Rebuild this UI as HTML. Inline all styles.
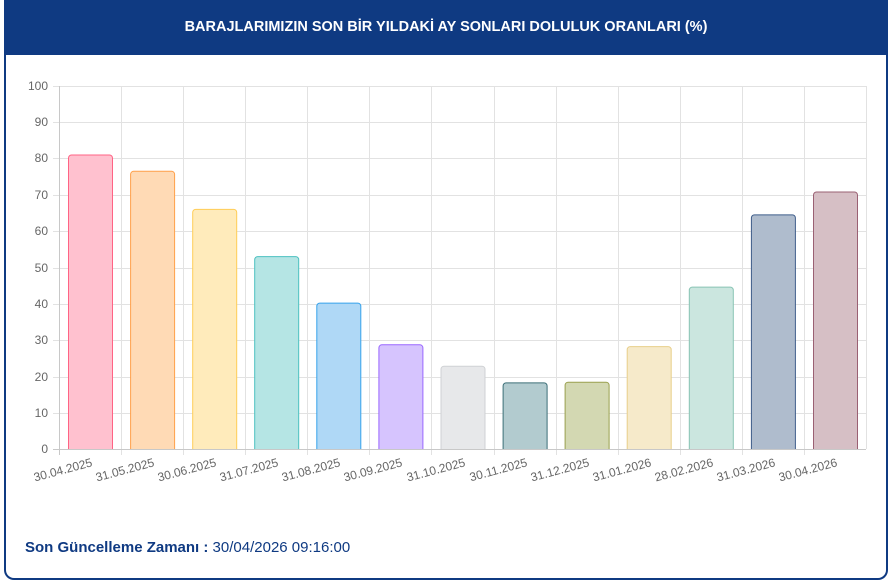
<!DOCTYPE html>
<html><head><meta charset="utf-8"><style>
body{margin:0;background:#fff;width:892px;height:583px;overflow:hidden;font-family:"Liberation Sans",sans-serif}
.card{position:absolute;left:4px;top:0;width:880px;height:578px;border:2px solid #0f3a82;border-top:none;border-radius:0 0 10px 10px}
.hdr{position:absolute;left:4px;top:0;width:884px;height:55px;background:#0f3a82;color:#fff;font-weight:bold;font-size:14.5px;text-align:center;line-height:54px}
.foot{position:absolute;left:25px;top:539px;font-size:15px;color:#0f3a82}
</style></head><body>
<div class="card"></div>
<div class="hdr">BARAJLARIMIZIN SON BİR YILDAKİ AY SONLARI DOLULUK ORANLARI (%)</div>
<svg style="position:absolute;left:0;top:0" width="892" height="583">
<g stroke="#e2e2e2" stroke-width="1">
<line x1="53" x2="866" y1="86.5" y2="86.5"/><line x1="53" x2="866" y1="122.5" y2="122.5"/><line x1="53" x2="866" y1="158.5" y2="158.5"/><line x1="53" x2="866" y1="195.5" y2="195.5"/><line x1="53" x2="866" y1="231.5" y2="231.5"/><line x1="53" x2="866" y1="268.5" y2="268.5"/><line x1="53" x2="866" y1="304.5" y2="304.5"/><line x1="53" x2="866" y1="340.5" y2="340.5"/><line x1="53" x2="866" y1="377.5" y2="377.5"/><line x1="53" x2="866" y1="413.5" y2="413.5"/>
<line x1="121.5" x2="121.5" y1="86" y2="455"/><line x1="183.5" x2="183.5" y1="86" y2="455"/><line x1="245.5" x2="245.5" y1="86" y2="455"/><line x1="307.5" x2="307.5" y1="86" y2="455"/><line x1="369.5" x2="369.5" y1="86" y2="455"/><line x1="431.5" x2="431.5" y1="86" y2="455"/><line x1="494.5" x2="494.5" y1="86" y2="455"/><line x1="556.5" x2="556.5" y1="86" y2="455"/><line x1="618.5" x2="618.5" y1="86" y2="455"/><line x1="680.5" x2="680.5" y1="86" y2="455"/><line x1="742.5" x2="742.5" y1="86" y2="455"/><line x1="804.5" x2="804.5" y1="86" y2="455"/><line x1="866.5" x2="866.5" y1="86" y2="449"/>
</g>
<g stroke="#c8c8c8"><line x1="59.5" x2="59.5" y1="86" y2="455"/><line x1="53" x2="866" y1="449.5" y2="449.5"/></g>
<g stroke-width="1">
<path d="M68.5,449V158a3,3 0 0 1 3-3h38a3,3 0 0 1 3,3V449" fill="#ffc1cf" stroke="#ff6384"/>
<path d="M130.6,449V174.3a3,3 0 0 1 3-3h38a3,3 0 0 1 3,3V449" fill="#ffdab5" stroke="#ffa04a"/>
<path d="M192.7,449V212.4a3,3 0 0 1 3-3h38a3,3 0 0 1 3,3V449" fill="#ffebbb" stroke="#ffcd56"/>
<path d="M254.7,449V259.6a3,3 0 0 1 3-3h38a3,3 0 0 1 3,3V449" fill="#b5e5e4" stroke="#4bc0c0"/>
<path d="M316.8,449V306.1a3,3 0 0 1 3-3h38a3,3 0 0 1 3,3V449" fill="#afd8f6" stroke="#36a2eb"/>
<path d="M378.9,449V347.8a3,3 0 0 1 3-3h38a3,3 0 0 1 3,3V449" fill="#d6c4fe" stroke="#9966ff"/>
<path d="M441,449V369.2a3,3 0 0 1 3-3h38a3,3 0 0 1 3,3V449" fill="#e7e8ea" stroke="#cfd1d4"/>
<path d="M503.1,449V385.9a3,3 0 0 1 3-3h38a3,3 0 0 1 3,3V449" fill="#b2cbcf" stroke="#3c6f78"/>
<path d="M565.1,449V385.2a3,3 0 0 1 3-3h38a3,3 0 0 1 3,3V449" fill="#d3d8b2" stroke="#9aa04e"/>
<path d="M627.2,449V349.6a3,3 0 0 1 3-3h38a3,3 0 0 1 3,3V449" fill="#f6eaca" stroke="#e8cf8a"/>
<path d="M689.3,449V290.1a3,3 0 0 1 3-3h38a3,3 0 0 1 3,3V449" fill="#cbe6df" stroke="#88c4b4"/>
<path d="M751.4,449V217.9a3,3 0 0 1 3-3h38a3,3 0 0 1 3,3V449" fill="#afbccd" stroke="#3f5d8a"/>
<path d="M813.5,449V195a3,3 0 0 1 3-3h38a3,3 0 0 1 3,3V449" fill="#d6bfc5" stroke="#9a6073"/>
</g>
<g font-size="12" fill="#666" text-anchor="end">
<text x="48" y="90">100</text><text x="48" y="126">90</text><text x="48" y="162">80</text><text x="48" y="199">70</text><text x="48" y="235">60</text><text x="48" y="272">50</text><text x="48" y="308">40</text><text x="48" y="344">30</text><text x="48" y="381">20</text><text x="48" y="417">10</text><text x="48" y="453">0</text>
</g>
<g font-size="12" fill="#666" text-anchor="end">
<text transform="translate(93,466) rotate(-15)">30.04.2025</text>
<text transform="translate(155,466) rotate(-15)">31.05.2025</text>
<text transform="translate(217,466) rotate(-15)">30.06.2025</text>
<text transform="translate(279,466) rotate(-15)">31.07.2025</text>
<text transform="translate(341,466) rotate(-15)">31.08.2025</text>
<text transform="translate(403,466) rotate(-15)">30.09.2025</text>
<text transform="translate(466,466) rotate(-15)">31.10.2025</text>
<text transform="translate(528,466) rotate(-15)">30.11.2025</text>
<text transform="translate(590,466) rotate(-15)">31.12.2025</text>
<text transform="translate(652,466) rotate(-15)">31.01.2026</text>
<text transform="translate(714,466) rotate(-15)">28.02.2026</text>
<text transform="translate(776,466) rotate(-15)">31.03.2026</text>
<text transform="translate(838,466) rotate(-15)">30.04.2026</text>
</g>
</svg>
<div class="foot"><b>Son Güncelleme Zamanı :</b> 30/04/2026 09:16:00</div>
</body></html>
